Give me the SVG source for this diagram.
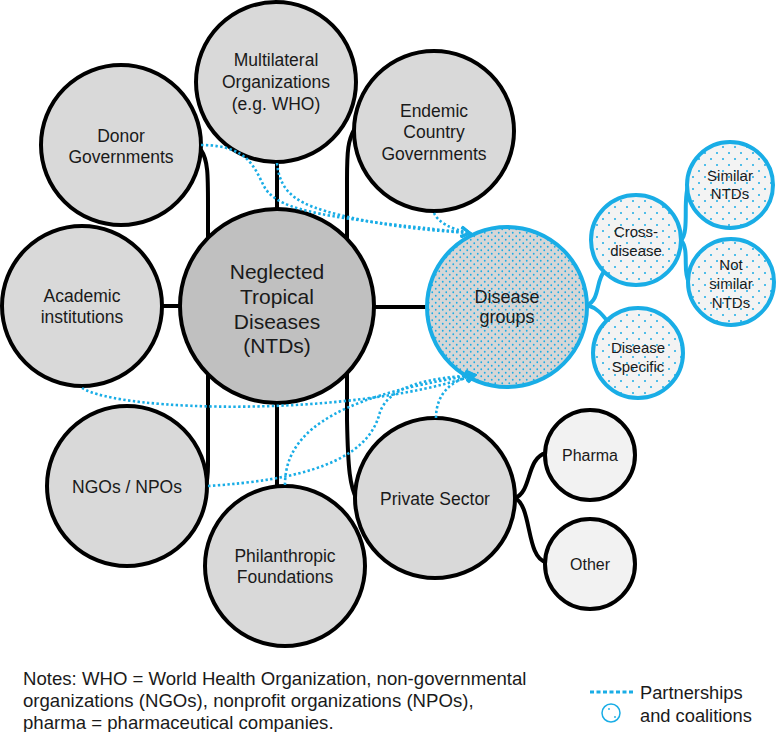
<svg xmlns="http://www.w3.org/2000/svg" width="778" height="732" viewBox="0 0 778 732">
<style>
.n{stroke:#000;stroke-width:4;fill:#d9d9d9}
.ntd{stroke:#000;stroke-width:4;fill:#c0c0c0}
.sub{stroke:#000;stroke-width:4;fill:#f2f2f2}
.bl{stroke:#19ade6;stroke-width:4}
.t{font-family:"Liberation Sans",Arial,sans-serif;font-size:17.5px;fill:#1a1a1a;text-anchor:middle}
.ts{font-size:15px}
.tp{font-size:16px}
.tn{font-size:21px}
.td{font-size:18px}
.con{fill:none;stroke:#000;stroke-width:4}
.bcon{fill:none;stroke:#19ade6;stroke-width:4}
.dot{fill:none;stroke:#19ade6;stroke-width:2.6;stroke-dasharray:2.4 2.4}
.note{font-family:"Liberation Sans",Arial,sans-serif;font-size:18.6px;fill:#1a1a1a}
.leg{font-family:"Liberation Sans",Arial,sans-serif;font-size:18.3px;fill:#1a1a1a}
</style>
<defs>
<pattern id="dense" width="7" height="7" patternUnits="userSpaceOnUse">
<rect width="7" height="7" fill="#d6d6d6"/>
<circle cx="1.75" cy="1.75" r="0.9" fill="#19ade6"/>
<circle cx="5.25" cy="5.25" r="0.9" fill="#19ade6"/>
</pattern>
<pattern id="sparse" width="12" height="12" patternUnits="userSpaceOnUse">
<rect width="12" height="12" fill="#f3f3f3"/>
<circle cx="3" cy="3" r="1" fill="#19ade6"/>
<circle cx="9" cy="9" r="1" fill="#19ade6"/>
</pattern>
<marker id="arr" viewBox="0 0 12 12" refX="10" refY="6" markerWidth="12" markerHeight="12" markerUnits="userSpaceOnUse" orient="auto">
<path d="M1,1 L10,6 L1,11" fill="none" stroke="#19ade6" stroke-width="2.5"/>
</marker>
</defs>

<g id="connectors">
<path class="con" d="M201,150 C208,160 208,175 208,205 L208,465 C208,478 207,483 205,488"/>
<path class="con" d="M355,128 C348,140 347,150 347,180 L347,420 C348,470 350,487 357,500"/>
<path class="con" d="M277,160 L277,210"/>
<path class="con" d="M277,402 L277,487"/>
<path class="con" d="M160,306 L181,306"/>
<path class="con" d="M373,307 L429,307"/>
<path class="con" d="M515,498 C532,492 526,458 546,453"/>
<path class="con" d="M515,498 C532,506 526,558 546,562"/>
<path class="bcon" d="M587,305 C600,300 596,280 604,272"/>
<path class="bcon" d="M587,305 C597,308 602,314 608,322"/>
<path class="bcon" d="M681,240 C690,232 682,196 689,184"/>
<path class="bcon" d="M681,240 C690,250 682,272 689,282"/>
</g>

<g id="node-multilateral"><circle class="n" cx="276" cy="82" r="80"/><text class="t" x="276" y="66">Multilateral</text><text class="t" x="276" y="88">Organizations</text><text class="t" x="276" y="110">(e.g. WHO)</text></g>
<g id="node-donor"><circle class="n" cx="121" cy="145" r="80"/><text class="t" x="121" y="142">Donor</text><text class="t" x="121" y="163">Governments</text></g>
<g id="node-endemic"><circle class="n" cx="434" cy="131" r="80"/><text class="t" x="434" y="117">Endemic</text><text class="t" x="434" y="138">Country</text><text class="t" x="434" y="160">Governments</text></g>
<g id="node-academic"><circle class="n" cx="82" cy="306" r="80"/><text class="t" x="82" y="302">Academic</text><text class="t" x="82" y="323">institutions</text></g>
<g id="node-ntds"><circle class="ntd" cx="277" cy="306" r="97"/><text class="t tn" x="277" y="279">Neglected</text><text class="t tn" x="277" y="304">Tropical</text><text class="t tn" x="277" y="329">Diseases</text><text class="t tn" x="277" y="353">(NTDs)</text></g>
<g id="node-ngos"><circle class="n" cx="127" cy="486" r="80"/><text class="t" x="127" y="493">NGOs / NPOs</text></g>
<g id="node-philanthropic"><circle class="n" cx="285" cy="566" r="80"/><text class="t" x="285" y="562">Philanthropic</text><text class="t" x="285" y="583">Foundations</text></g>
<g id="node-private"><circle class="n" cx="435" cy="498" r="80"/><text class="t" x="435" y="505">Private Sector</text></g>
<g id="node-pharma"><circle class="sub" cx="590" cy="455" r="45"/><text class="t tp" x="590" y="461">Pharma</text></g>
<g id="node-other"><circle class="sub" cx="590" cy="564" r="45"/><text class="t tp" x="590" y="570">Other</text></g>
<g id="node-disease-groups"><circle class="bl" fill="url(#dense)" cx="507" cy="307" r="80"/><text class="t td" x="507" y="303">Disease</text><text class="t td" x="507" y="323">groups</text></g>
<g id="node-cross"><circle class="bl" fill="url(#sparse)" cx="636" cy="240" r="45"/><text class="t ts" x="636" y="237">Cross-</text><text class="t ts" x="636" y="256">disease</text></g>
<g id="node-specific"><circle class="bl" fill="url(#sparse)" cx="638" cy="353" r="45"/><text class="t ts" x="638" y="353">Disease</text><text class="t ts" x="638" y="372">Specific</text></g>
<g id="node-similar"><circle class="bl" fill="url(#sparse)" cx="730" cy="185" r="43"/><text class="t ts" x="730" y="181">Similar</text><text class="t ts" x="730" y="199">NTDs</text></g>
<g id="node-notsimilar"><circle class="bl" fill="url(#sparse)" cx="731" cy="282" r="43"/><text class="t ts" x="731" y="270">Not</text><text class="t ts" x="731" y="289">similar</text><text class="t ts" x="731" y="308">NTDs</text></g>

<g id="partnerships">
<path class="dot" d="M201,145 C250,145 255,170 265,188 C280,212 330,218 470,233" marker-end="url(#arr)"/>
<path class="dot" d="M277,163 C280,195 300,205 340,215 C380,225 420,230 470,233" marker-end="url(#arr)"/>
<path class="dot" d="M434,213 C438,222 450,229 470,233" marker-end="url(#arr)"/>
<path class="dot" d="M82,388 C120,412 350,418 475,375" marker-end="url(#arr)"/>
<path class="dot" d="M208,486 C300,480 368,462 380,412 C390,385 430,378 475,375" marker-end="url(#arr)"/>
<path class="dot" d="M285,485 C285,440 320,398 475,375" marker-end="url(#arr)"/>
<path class="dot" d="M436,418 C436,395 450,380 475,375" marker-end="url(#arr)"/>
</g>

<g id="notes">
<text class="note" x="23" y="685">Notes: WHO = World Health Organization, non-governmental</text>
<text class="note" x="23" y="707">organizations (NGOs), nonprofit organizations (NPOs),</text>
<text class="note" x="23" y="729">pharma = pharmaceutical companies.</text>
</g>

<g id="legend">
<path d="M590,692 L634,692" fill="none" stroke="#19ade6" stroke-width="3" stroke-dasharray="4 2.5"/>
<circle cx="611" cy="713" r="9" fill="none" stroke="#19ade6" stroke-width="1.5"/>
<circle cx="609" cy="709" r="0.9" fill="#19ade6"/>
<circle cx="615" cy="717" r="0.9" fill="#19ade6"/>
<text class="leg" x="640" y="699">Partnerships</text>
<text class="leg" x="640" y="722">and coalitions</text>
</g>
</svg>
